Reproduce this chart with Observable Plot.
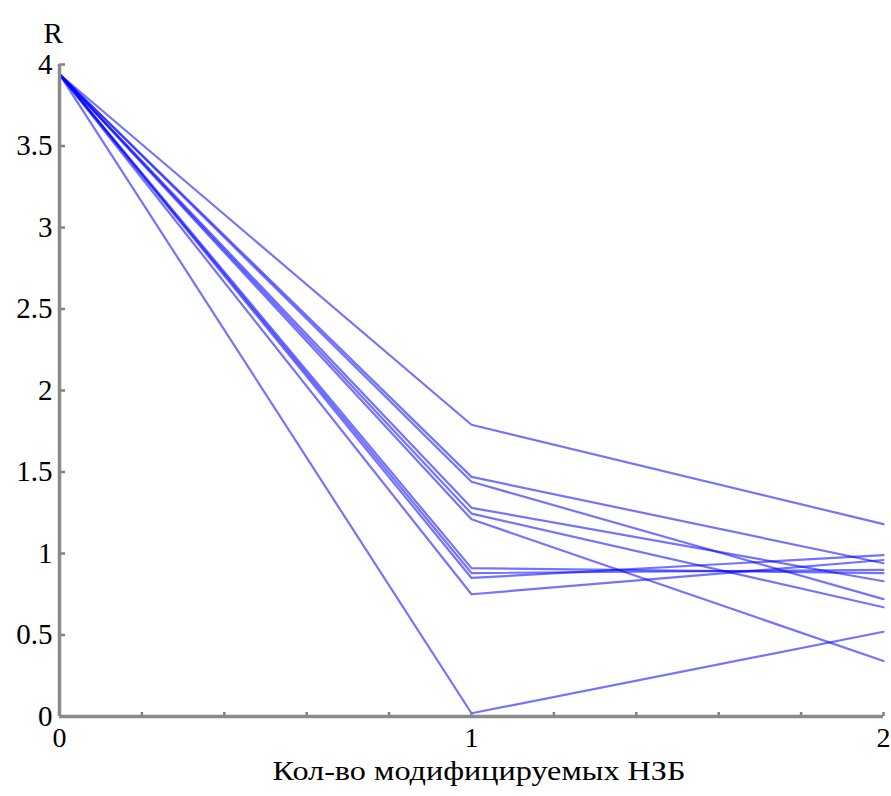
<!DOCTYPE html>
<html><head><meta charset="utf-8">
<script src="https://cdn.jsdelivr.net/npm/d3@7"></script>
<script src="https://cdn.jsdelivr.net/npm/@observablehq/plot@0.6"></script>
<style>body{margin:0;background:#fff}</style>
</head><body><div id="chart"></div>
<script>
const xValues = [0, 1, 2];
const startValue = 3.94;
const valuesAt1 = [1.79, 1.47, 1.44, 1.28, 1.245, 1.21, 0.91, 0.88, 0.85, 0.75, 0.02];
const valuesAt2 = [1.18, 0.94, 0.72, 0.83, 0.67, 0.34, 0.88, 0.90, 0.99, 0.96, 0.52];
const yTicks = [0, 0.5, 1, 1.5, 2, 2.5, 3, 3.5, 4];
const yTickLabels = ["0", "0.5", "1", "1.5", "2", "2.5", "3", "3.5", "4"];
const xTicks = [0, 1, 2];
const xTickLabels = ["0", "1", "2"];
const xMinorTicks = [0.2, 0.4, 0.6, 0.8, 1, 1.2, 1.4, 1.6, 1.8, 2];
const xTitle = "Кол-во модифицируемых НЗБ";
const yTitle = "R";

const W = 891, H = 796, mL = 59, mR = 8, mT = 64, mB = 80;
const pw = W - mL - mR, ph = H - mT - mB;

const data = valuesAt1.flatMap((v, i) => [
  {s: i, x: xValues[0], y: startValue},
  {s: i, x: xValues[1], y: v},
  {s: i, x: xValues[2], y: valuesAt2[i]}
]);

const chart = Plot.plot({
  width: W, height: H,
  marginLeft: mL, marginRight: mR, marginTop: mT, marginBottom: mB,
  x: {domain: [0, 2]},
  y: {domain: [0, 4]},
  style: {fontFamily: "'Liberation Serif', serif", background: "#fff", color: "#000"},
  marks: [
    Plot.line(data, {x: "x", y: "y", z: "s", stroke: "#0000ff", strokeOpacity: 0.55, strokeWidth: 2.2}),
    Plot.tickY(yTicks, {y: d => d, insetRight: pw - 6, stroke: "#808080", strokeWidth: 2.5}),
    Plot.tickX(xMinorTicks, {x: d => d, insetTop: ph - 4, stroke: "#808080", strokeWidth: 2.5}),
    Plot.ruleX([0], {stroke: "#8a8a8a", strokeWidth: 3.5}),
    Plot.ruleY([0], {stroke: "#8a8a8a", strokeWidth: 3.5}),
    Plot.axisY(yTicks, {tickSize: 0, tickPadding: 7, fontSize: 29, tickFormat: (d, i) => yTickLabels[i], label: null}),
    Plot.axisX(xTicks, {tickSize: 0, tickPadding: 11, fontSize: 28, tickFormat: (d, i) => xTickLabels[i], label: null}),
    Plot.text([yTitle], {frameAnchor: "top-left", dx: -16, dy: -42, fontSize: 29, text: d => d}),
    Plot.text([xTitle], {frameAnchor: "bottom", dx: 7.5, dy: 63, fontSize: 28, text: d => d, className: "xtitle"})
  ]
});
document.getElementById("chart").appendChild(chart);
const t = chart.querySelector(".xtitle text");
if (t) { t.setAttribute("textLength", 413); t.setAttribute("lengthAdjust", "spacingAndGlyphs"); }
</script>
</body></html>
